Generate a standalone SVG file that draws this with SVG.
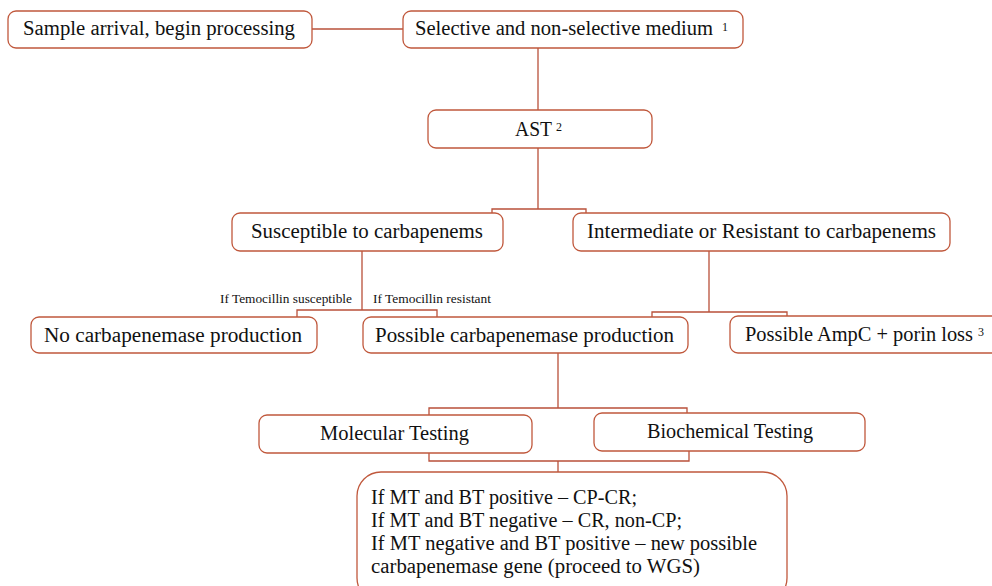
<svg xmlns="http://www.w3.org/2000/svg" width="992" height="586" viewBox="0 0 992 586">
<style>
.box{fill:#fff;stroke:#c0583c;stroke-width:1.3}
.con{fill:none;stroke:#b9503a;stroke-width:1.3}
.t{font-family:"Liberation Serif","Times New Roman",serif;font-size:20.5px;fill:#111}
.s{font-family:"Liberation Serif","Times New Roman",serif;font-size:11.5px;fill:#111}
.sup{font-family:"Liberation Serif","Times New Roman",serif;font-size:12px;fill:#111}
</style>
<rect width="992" height="586" fill="#fff"/>
<g id="connectors">
<path class="con" d="M312 29H403"/>
<path class="con" d="M538 48V110"/>
<path class="con" d="M538 148V209M492 213V209H586V213"/>
<path class="con" d="M362 251V310M297 317V310H437V317"/>
<path class="con" d="M709 251V312M652 317V312H787V316"/>
<path class="con" d="M558 353V408M429 415V408H687V413"/>
<path class="con" d="M429 453V461H689V451M558 461V472"/>
</g>
<g id="sample"><rect class="box" x="8" y="11" width="304" height="37" rx="8"/><text class="t" x="23" y="35" textLength="272" lengthAdjust="spacingAndGlyphs">Sample arrival, begin processing</text></g>
<g id="medium"><rect class="box" x="403" y="11" width="340" height="37" rx="8"/><text class="t" x="415" y="35" textLength="298" lengthAdjust="spacingAndGlyphs">Selective and non-selective medium</text><text class="sup" x="722" y="31">1</text></g>
<g id="ast"><rect class="box" x="428" y="110" width="224" height="38" rx="8"/><text class="t" x="515" y="136" textLength="37" lengthAdjust="spacingAndGlyphs">AST</text><text class="sup" x="556" y="131">2</text></g>
<g id="susceptible"><rect class="box" x="232" y="213" width="271" height="38" rx="8"/><text class="t" x="251" y="238" textLength="232" lengthAdjust="spacingAndGlyphs">Susceptible to carbapenems</text></g>
<g id="resistant"><rect class="box" x="573" y="213" width="377" height="38" rx="8"/><text class="t" x="587" y="238" textLength="349" lengthAdjust="spacingAndGlyphs">Intermediate or Resistant to carbapenems</text></g>
<g id="label-susc"><text class="s" x="220" y="303" textLength="132" lengthAdjust="spacingAndGlyphs">If Temocillin  susceptible</text></g>
<g id="label-res"><text class="s" x="373" y="303" textLength="118" lengthAdjust="spacingAndGlyphs">If Temocillin  resistant</text></g>
<g id="no-cp"><rect class="box" x="31" y="317" width="286" height="36" rx="8"/><text class="t" x="44" y="342" textLength="258" lengthAdjust="spacingAndGlyphs">No carbapenemase production</text></g>
<g id="possible-cp"><rect class="box" x="363" y="317" width="325" height="36" rx="8"/><text class="t" x="375" y="342" textLength="299" lengthAdjust="spacingAndGlyphs">Possible carbapenemase production</text></g>
<g id="ampc"><rect class="box" x="730" y="316" width="280" height="37" rx="8"/><text class="t" x="745" y="341" textLength="228" lengthAdjust="spacingAndGlyphs">Possible AmpC + porin loss</text><text class="sup" x="978" y="336">3</text></g>
<g id="molecular"><rect class="box" x="259" y="415" width="273" height="38" rx="8"/><text class="t" x="320" y="440" textLength="149" lengthAdjust="spacingAndGlyphs">Molecular Testing</text></g>
<g id="biochemical"><rect class="box" x="594" y="413" width="271" height="38" rx="8"/><text class="t" x="647" y="438" textLength="166" lengthAdjust="spacingAndGlyphs">Biochemical Testing</text></g>
<g id="result"><rect class="box" x="357" y="472" width="430" height="130" rx="24"/>
<text class="t" x="371" y="504" textLength="266" lengthAdjust="spacingAndGlyphs">If  MT and BT positive – CP-CR;</text>
<text class="t" x="371" y="527" textLength="311" lengthAdjust="spacingAndGlyphs">If MT and BT negative – CR, non-CP;</text>
<text class="t" x="371" y="550" textLength="386" lengthAdjust="spacingAndGlyphs">If MT negative and BT positive – new possible</text>
<text class="t" x="371" y="573" textLength="329" lengthAdjust="spacingAndGlyphs">carbapenemase gene (proceed to WGS)</text></g>
</svg>
